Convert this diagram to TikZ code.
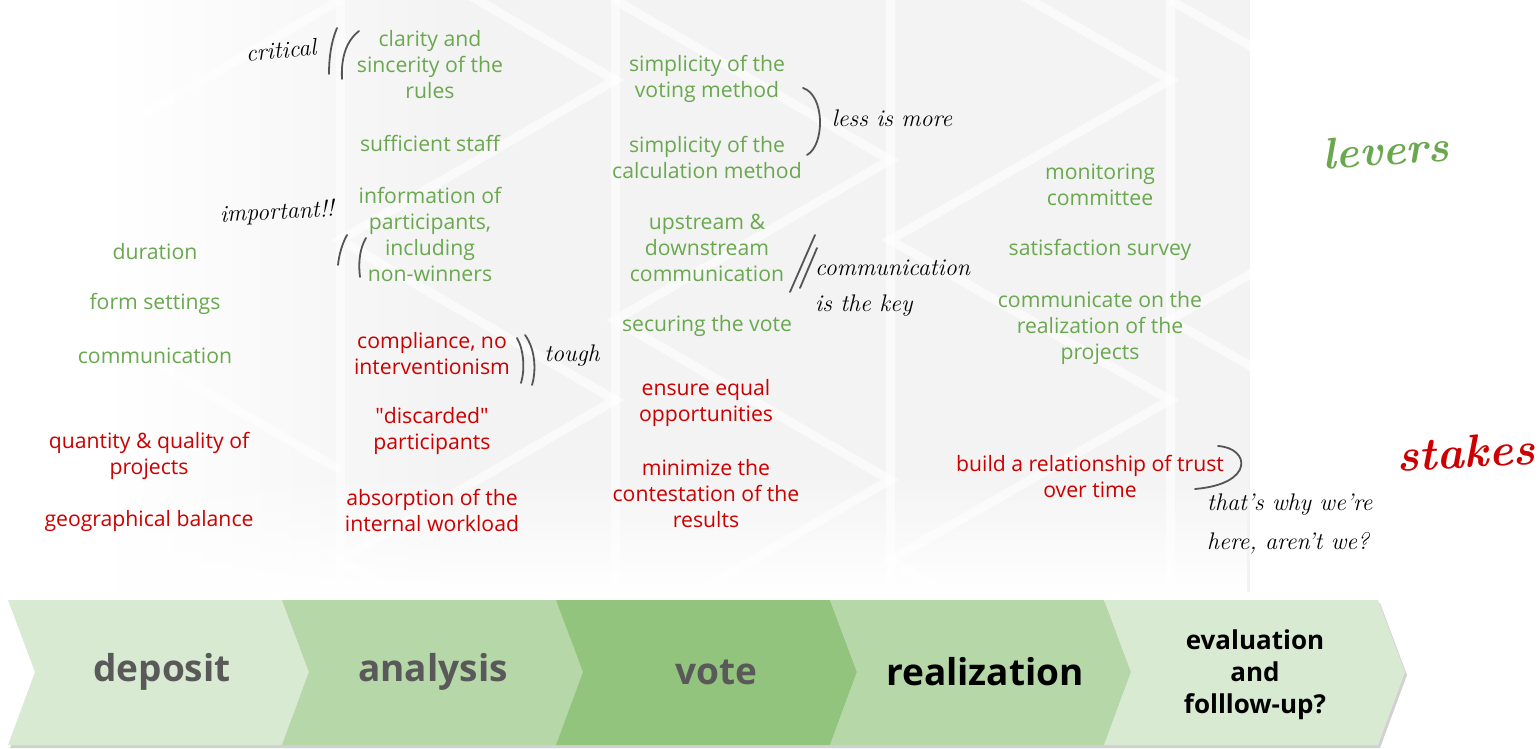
\documentclass[tikz,border=0pt]{standalone}
\usepackage{fontspec}
\setmainfont{Open Sans}
\usetikzlibrary{fadings}
\definecolor{lev}{HTML}{6AA84F}
\definecolor{stk}{HTML}{CC0000}
\definecolor{chA}{HTML}{D9EAD3}
\definecolor{chB}{HTML}{B6D7A8}
\definecolor{chC}{HTML}{93C47D}
\definecolor{chtxt}{HTML}{595959}
\definecolor{mark}{HTML}{555555}
\definecolor{bg}{HTML}{F3F3F3}
\newcommand\hand{\fontfamily{lmr}\fontshape{it}\selectfont}
\newcommand\handbold{\fontfamily{lmr}\fontseries{bx}\fontshape{it}\selectfont}
\tikzset{
  txt/.style={font=\fontsize{21.2}{26}\selectfont, align=center, inner sep=0pt},
  lever/.style={txt, text=lev},
  stake/.style={txt, text=stk},
  note/.style={font=\hand\fontsize{24}{38}\selectfont, align=left, inner sep=0pt, text=black},
  stroke/.style={draw=mark, line width=1.8pt, line cap=round},
  chlabel/.style={font=\bfseries\fontsize{37}{40}\selectfont, text=chtxt, inner sep=0pt},
  pattern/.style={draw=white, line width=9pt, opacity=0.6},
}
\begin{document}
\begin{tikzpicture}[x=1pt,y=-1pt]
\useasboundingbox (0,0) rectangle (1540,749);
% background panel
\fill[bg] (450,0) rectangle (1250,592);
\shade[left color=white, right color=bg] (100,0) rectangle (451,592);
\begin{scope}
\clip (100,0) rectangle (1250,592);
\draw[pattern] (340,0) -- (340,592);
\draw[pattern] (615,0) -- (615,592);
\draw[pattern] (890,0) -- (890,592);
\draw[pattern] (1170,0) -- (1170,592);
\draw[pattern] (340,-80) -- (615,80) -- (340,240) -- (615,400) -- (340,560) -- (615,720);
\draw[pattern] (615,0) -- (890,160) -- (615,320) -- (890,480) -- (615,640);
\draw[pattern] (890,-80) -- (1170,80) -- (890,240) -- (1170,400) -- (890,560) -- (1170,720);
\draw[pattern] (1170,0) -- (1450,160) -- (1170,320) -- (1450,480);
\draw[pattern] (340,0) -- (100,140);
\draw[pattern] (100,330) -- (340,470);
\end{scope}
\fill[white, path fading=north] (100,470) rectangle (1250,593);

% chevrons
\foreach \L/\R/\c in {8/282/chA, 282/556/chB, 556/830/chC, 830/1104/chB, 1104/1378/chA}{
  \fill[black, opacity=0.18] (\L+2,603) -- (\R+2,603) -- (\R+29,675) -- (\R+2,748) -- (\L+2,748) -- (\L+29,675) -- cycle;
  \fill[\c] (\L,600) -- (\R,600) -- (\R+27,672) -- (\R,745) -- (\L,745) -- (\L+27,672) -- cycle;
}
\node[chlabel] (deposit) at (162,672) {deposit};
\node[chlabel] (analysis) at (433,672) {analysis};
\node[chlabel] (vote) at (716,672) {vote};
\node[chlabel, text=black] (realization) at (985,672) {realization};
\node[font=\bfseries\fontsize{26}{32}\selectfont, align=center, inner sep=0pt] (evaluation) at (1255,675) {evaluation\\and\\folllow-up?};

% column 1
\node[lever] (duration) at (155,252) {duration};
\node[lever] (form) at (155,304) {form settings};
\node[lever] (comm1) at (155,356) {communication};
\node[stake] (quantity) at (149,456) {quantity \& quality of\\projects};
\node[stake] (geo) at (149,521) {geographical balance};

% column 2
\node[lever] (clarity) at (430,65) {clarity and\\sincerity of the\\rules};
\node[lever] (staff) at (430,143) {sufficient staff};
\node[lever] (info) at (430,234) {information of\\participants,\\including\\non-winners};
\node[stake] (compliance) at (432,354) {compliance, no\\interventionism};
\node[stake] (discarded) at (432,431) {\textquotedbl discarded\textquotedbl\\participants};
\node[stake] (absorption) at (432,510) {absorption of the\\internal workload};

% column 3
\node[lever] (svoting) at (707,79) {simplicity of the\\voting method};
\node[lever] (scalc) at (707,157) {simplicity of the\\calculation method};
\node[lever] (upstream) at (707,248) {upstream \&\\downstream\\communication};
\node[lever] (securing) at (707,326) {securing the vote};
\node[stake] (equal) at (706,403) {ensure equal\\opportunities};
\node[stake] (minimize) at (706,494) {minimize the\\contestation of the\\results};

% column 4
\node[lever] (monitoring) at (1100,185) {monitoring\\committee};
\node[lever] (survey) at (1100,250) {satisfaction survey};
\node[lever] (communicate) at (1100,328) {communicate on the\\realization of the\\projects};
\node[stake] (trust) at (1090,476) {build a relationship of trust\\over time};

% handwritten notes
\node[note, rotate=5] (critical) at (281,50) {critical};
\node[note, rotate=3] (important) at (277,213) {important!!};
\node[note] (less) at (892,118) {less is more};
\node[note, anchor=west] (commkey) at (815,268) {communication};
\node[note, anchor=west] (iskey) at (815,306) {is the key};
\node[note] (tough) at (572,356) {tough};
\node[note, anchor=west] (why) at (1207,505) {that's why we're};
\node[note, anchor=west] (here) at (1207,543) {here, aren't we?};
\node[font=\handbold\fontsize{44}{50}\selectfont, text=lev, inner sep=0pt, rotate=4] (levers) at (1386,150) {levers};
\node[font=\handbold\fontsize{46}{50}\selectfont, text=stk, inner sep=0pt, rotate=3] (stakes) at (1466,452) {stakes};

% marks
\draw[stroke] (337,28) .. controls (331,42) and (329,58) .. (329,74);
\draw[stroke] (359,31) .. controls (345,42) and (341,60) .. (342,79);
\draw[stroke] (347,235) .. controls (342,244) and (339,255) .. (338,265);
\draw[stroke] (366,238) .. controls (360,248) and (358,262) .. (360,277);
\draw[stroke] (803,88) .. controls (825,95) and (825,145) .. (807,155);
\draw[stroke] (815,235) -- (790,292);
\draw[stroke] (817,248) -- (800,288);
\draw[stroke] (517,338) .. controls (524,350) and (525,370) .. (521,383);
\draw[stroke] (525,335) .. controls (536,350) and (536,372) .. (532,385);
\draw[stroke] (1218,446) .. controls (1250,448) and (1255,484) .. (1195,489);
\end{tikzpicture}
\end{document}
